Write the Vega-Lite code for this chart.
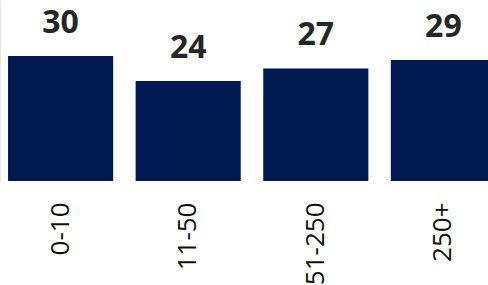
{
  "$schema": "https://vega.github.io/schema/vega-lite/v6.json",
  "autosize": {"type": "none"},
  "padding": {"left": 0, "top": 0, "right": 0, "bottom": 104},
  "width": 504,
  "height": 181,
  "background": "white",
  "config": {"view": {"stroke": null}},
  "data": {"values": [
    {"size": "0-10", "value": 30},
    {"size": "11-50", "value": 24},
    {"size": "51-250", "value": 27},
    {"size": "250+", "value": 29}
  ]},
  "encoding": {
    "x": {"field": "size", "type": "nominal", "sort": null,
      "scale": {"paddingInner": 0.176, "paddingOuter": 0.063},
      "axis": {"title": null, "labelAngle": -90, "labelAlign": "right", "labelBaseline": "middle",
        "labelFont": "Open Sans", "labelFontSize": 26, "labelColor": "#111111",
        "labelPadding": 21, "ticks": false, "domain": false}},
    "y": {"field": "value", "type": "quantitative",
      "scale": {"domain": [0, 43.4], "nice": false, "zero": true},
      "axis": {"title": null, "labels": false, "ticks": false, "grid": false,
        "domain": true, "domainColor": "#e6e6e6", "domainWidth": 1}}
  },
  "layer": [
    {"mark": {"type": "bar", "color": "#001a51"}},
    {"mark": {"type": "text", "baseline": "alphabetic", "dy": -23, "font": "Open Sans",
      "fontWeight": "bold", "fontSize": 32, "color": "#262626"},
     "encoding": {"text": {"field": "value", "type": "quantitative"}}}
  ]
}
